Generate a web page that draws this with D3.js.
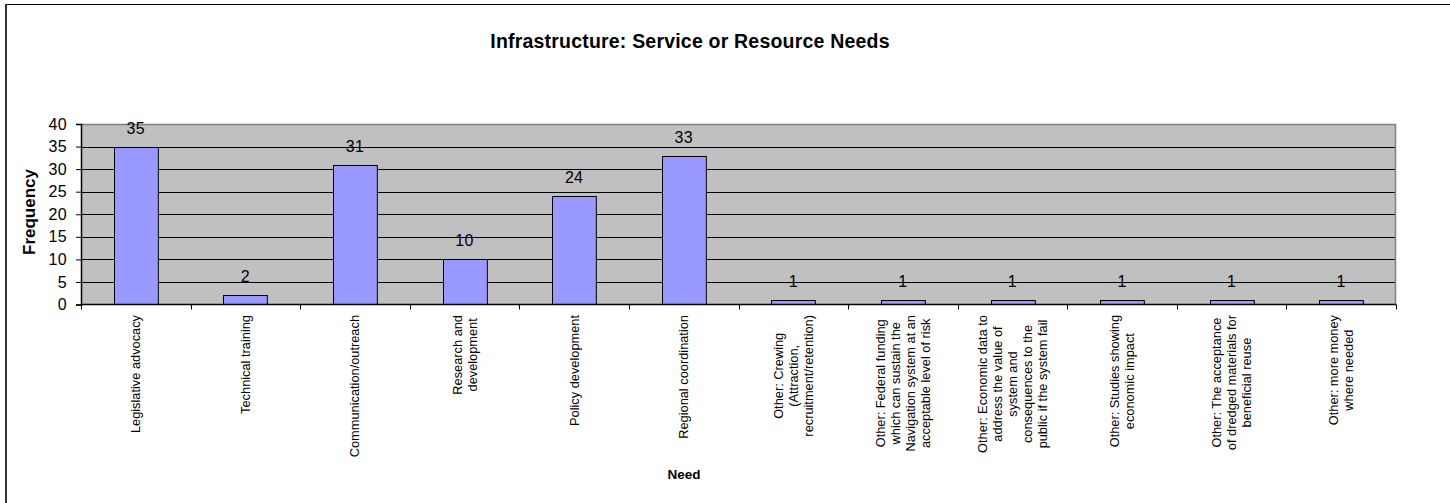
<!DOCTYPE html>
<html>
<head>
<meta charset="utf-8">
<script src="https://cdn.jsdelivr.net/npm/d3@7"></script>
<style>
  html, body { margin: 0; padding: 0; background: #fff; }
  svg { display: block; font-family: "Liberation Sans", Arial, sans-serif; }
</style>
</head>
<body>
<svg id="chart" width="1450" height="503"></svg>
<script>
// Category labels (line breaks as shown under each bar)
const categories = [
  ["Legislative advocacy"],
  ["Technical training"],
  ["Communication/outreach"],
  ["Research and", "development"],
  ["Policy development"],
  ["Regional coordination"],
  ["Other: Crewing", "(Attraction,", "recruitment/retention)"],
  ["Other: Federal funding", "which can sustain the", "Navigation system at an", "acceptable level of risk"],
  ["Other: Economic data to", "address the value of", "system and", "consequences to the", "public if the system fail"],
  ["Other: Studies showing", "economic impact"],
  ["Other: The acceptance", "of dredged materials for", "beneficial reuse"],
  ["Other: more money", "where needed"]
];
const frequency = [35, 2, 31, 10, 24, 33, 1, 1, 1, 1, 1, 1];
const yTicks = [0, 5, 10, 15, 20, 25, 30, 35, 40];

const titleText = "Infrastructure: Service or Resource Needs";
const xTitle = "Need";
const yTitle = "Frequency";

const svg = d3.select("#chart");
const plot = { left: 81, right: 1396, top: 124, bottom: 304.5 };

// chart frame
svg.append("line").attr("x1", 5).attr("x2", 1450).attr("y1", 4.5).attr("y2", 4.5)
  .attr("stroke", "#000").attr("stroke-width", 1);
svg.append("line").attr("x1", 6).attr("x2", 6).attr("y1", 4).attr("y2", 503)
  .attr("stroke", "#333").attr("stroke-width", 2);

const x = d3.scaleBand()
  .domain(d3.range(categories.length))
  .range([plot.left, plot.right])
  .paddingInner(0.6).paddingOuter(0.3);
const xb = d3.scaleBand()
  .domain(d3.range(categories.length))
  .range([plot.left, plot.right]);
const y = d3.scaleLinear().domain([0, 40]).range([plot.bottom, plot.top]);

// plot area background
svg.append("rect")
  .attr("x", plot.left).attr("y", plot.top)
  .attr("width", plot.right - plot.left).attr("height", plot.bottom - plot.top)
  .attr("fill", "#c0c0c0");

// gridlines
svg.append("g").selectAll("line")
  .data(yTicks.filter(d => d > 0 && d < 40))
  .join("line")
  .attr("x1", plot.left).attr("x2", plot.right)
  .attr("y1", d => Math.round(y(d)) + 0.5).attr("y2", d => Math.round(y(d)) + 0.5)
  .attr("stroke", "#000").attr("stroke-width", 1);

// plot border (top and right)
svg.append("path")
  .attr("d", `M${plot.left},${plot.top + 0.5}H${plot.right - 0.5}V${plot.bottom}`)
  .attr("fill", "none").attr("stroke", "#808080").attr("stroke-width", 1.5);

// bars
svg.append("g").selectAll("rect")
  .data(frequency)
  .join("rect")
  .attr("x", (d, i) => Math.round(x(i)) + 0.5)
  .attr("y", d => Math.round(y(d)) + 0.5)
  .attr("width", x.bandwidth())
  .attr("height", d => y(0) - Math.round(y(d)) - 0.5)
  .attr("fill", "#9999ff")
  .attr("stroke", "#000").attr("stroke-width", 1);

// value labels
svg.append("g").selectAll("text")
  .data(frequency)
  .join("text")
  .attr("x", (d, i) => x(i) + x.bandwidth() / 2)
  .attr("y", d => y(d) - 13)
  .attr("text-anchor", "middle")
  .attr("font-size", 16)
  .attr("letter-spacing", 0.3)
  .text(d => d);

// y axis
const yAxis = svg.append("g")
  .attr("transform", `translate(${plot.left},0)`)
  .call(d3.axisLeft(y).tickValues(yTicks).tickSize(5).tickPadding(9));
yAxis.select(".domain").attr("stroke", "#000").attr("stroke-width", 1.5);
yAxis.selectAll(".tick line").attr("stroke", "#000");
yAxis.selectAll(".tick text")
  .attr("font-family", "Liberation Sans, Arial, sans-serif")
  .attr("font-size", 16).attr("letter-spacing", 0.3).attr("fill", "#000");

// x axis with ticks between categories
const xAxisG = svg.append("g");
xAxisG.append("line")
  .attr("x1", plot.left).attr("x2", plot.right)
  .attr("y1", plot.bottom).attr("y2", plot.bottom)
  .attr("stroke", "#000").attr("stroke-width", 1.5);
xAxisG.selectAll("line.tk")
  .data(d3.range(categories.length + 1))
  .join("line").attr("class", "tk")
  .attr("x1", i => Math.round(plot.left + i * xb.bandwidth()) + 0.5)
  .attr("x2", i => Math.round(plot.left + i * xb.bandwidth()) + 0.5)
  .attr("y1", plot.bottom).attr("y2", plot.bottom + 5)
  .attr("stroke", "#000");

// category labels, rotated, lines centred within each block
const lineH = 15;
const labelTop = 315;
const lab = svg.append("g").selectAll("g")
  .data(categories)
  .join("g")
  .attr("transform", (d, i) => `translate(${xb(i) + xb.bandwidth() / 2},${labelTop}) rotate(-90)`);
lab.each(function(lines) {
  const g = d3.select(this);
  const n = lines.length;
  const texts = g.selectAll("text")
    .data(lines)
    .join("text")
    .attr("font-size", 12.8)
    .attr("text-anchor", "middle")
    .attr("dy", "0.35em")
    .attr("y", (d, k) => (k - (n - 1) / 2) * lineH)
    .text(d => d);
  let w = 0;
  texts.each(function() { w = Math.max(w, this.getComputedTextLength()); });
  texts.attr("x", -w / 2);
});

// titles
svg.append("text")
  .attr("x", 690).attr("y", 48)
  .attr("text-anchor", "middle")
  .attr("font-size", 19.5).attr("font-weight", "bold").attr("letter-spacing", 0.2)
  .text(titleText);
svg.append("text")
  .attr("x", 684).attr("y", 479)
  .attr("text-anchor", "middle")
  .attr("font-size", 13.5).attr("font-weight", "bold")
  .text(xTitle);
svg.append("text")
  .attr("transform", "translate(35,212) rotate(-90)")
  .attr("text-anchor", "middle")
  .attr("font-size", 17).attr("font-weight", "bold")
  .text(yTitle);
</script>
</body>
</html>
